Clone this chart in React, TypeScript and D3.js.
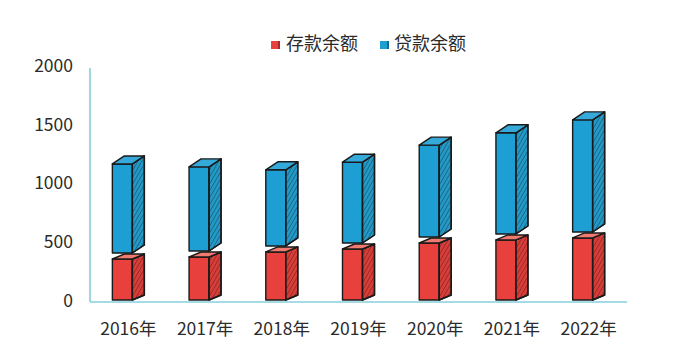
import React from "react";
import * as d3 from "d3";

const years = ["2016年", "2017年", "2018年", "2019年", "2020年", "2021年", "2022年"];
const deposits = [366, 383, 426, 451, 502, 528, 545];
const loans = [1175, 1150, 1125, 1190, 1335, 1440, 1550];
const yTicks = [0, 500, 1000, 1500, 2000];
const seriesNames = ["存款余额", "贷款余额"];

const W = 695;
const H = 356;
const FONT = "'Noto Sans CJK SC', 'Noto Sans', sans-serif";

const x = d3.scaleBand<string>().domain(years).range([90, 627]);
const y = d3.scaleLinear().domain([0, 2000]).range([302, 67]);

const RED = { front: "#e8403d", side: "#d63e3a", top: "#ef7a6f", hatch: "#7a1a17" };
const BLUE = { front: "#1d9fd3", side: "#2599c6", top: "#34a9da", hatch: "#0d4a63" };

function Box({ cx, yTop, yBot, dy, c, pid }: { cx: number; yTop: number; yBot: number; dy: number; c: typeof RED; pid: string }) {
  const fl = cx - 16;
  const fr = cx + 4;
  const dx = 12;
  const line = d3.line();
  const front = line([[fl, yBot], [fl, yTop], [fr, yTop], [fr, yBot]])! + "Z";
  const side = line([[fr, yBot], [fr, yTop], [fr + dx, yTop - dy], [fr + dx, yBot - dy]])! + "Z";
  const top = line([[fl, yTop], [fl + dx, yTop - dy], [fr + dx, yTop - dy], [fr, yTop]])! + "Z";
  const st = { stroke: "#1a1a1a", strokeWidth: 1.4, strokeLinejoin: "round" as const };
  return (
    <g>
      <path d={front} fill={c.front} {...st} />
      <path d={side} fill={c.side} {...st} />
      <path d={side} fill={`url(#${pid})`} stroke="none" />
      <path d={side} fill="none" {...st} />
      <path d={top} fill={c.top} {...st} />
    </g>
  );
}

export default function App() {
  return (
    <svg width={W} height={H} style={{ position: "absolute", left: 0, top: 0, background: "#fff" }}>
      <defs>
        <pattern id="hr" width="3.5" height="4" patternUnits="userSpaceOnUse" patternTransform="rotate(30)">
          <line x1="0" y1="0" x2="0" y2="4" stroke={RED.hatch} strokeWidth="1.1" />
        </pattern>
        <pattern id="hb" width="3.5" height="4" patternUnits="userSpaceOnUse" patternTransform="rotate(30)">
          <line x1="0" y1="0" x2="0" y2="4" stroke={BLUE.hatch} strokeWidth="1.1" />
        </pattern>
      </defs>

      <line x1={90} x2={90} y1={68} y2={y(0)} stroke="#86cfdc" strokeWidth={1.6} />
      <line x1={90} x2={627} y1={y(0)} y2={y(0)} stroke="#86cfdc" strokeWidth={1.6} />

      {yTicks.map((t) => (
        <text key={t} x={73} y={y(t)} textAnchor="end" dominantBaseline="middle" fontFamily={FONT} fontSize={17.5} fill="#2b2b2b">
          {t}
        </text>
      ))}

      {years.map((yr, i) => {
        const cx = (x(yr) as number) + x.bandwidth() / 2;
        return (
          <g key={yr}>
            <Box cx={cx} yTop={y(deposits[i])} yBot={y(0) - 2} dy={5} c={RED} pid="hr" />
            <Box cx={cx} yTop={y(loans[i])} yBot={y(deposits[i]) - 6} dy={8} c={BLUE} pid="hb" />
            <text x={cx} y={330} textAnchor="middle" dominantBaseline="middle" fontFamily={FONT} fontSize={17.5} fill="#2b2b2b">
              {yr}
            </text>
          </g>
        );
      })}

      <g>
        <rect x={271} y={41} width={7} height={8} fill={RED.front} />
        <rect x={278} y={41} width={2} height={8} fill="#a52a26" />
        <text x={286} y={45} dominantBaseline="middle" fontFamily={FONT} fontSize={18} fill="#2b2b2b">
          {seriesNames[0]}
        </text>
        <rect x={380} y={41} width={7} height={8} fill={BLUE.front} />
        <rect x={387} y={41} width={2} height={8} fill="#14698c" />
        <text x={394} y={45} dominantBaseline="middle" fontFamily={FONT} fontSize={18} fill="#2b2b2b">
          {seriesNames[1]}
        </text>
      </g>
    </svg>
  );
}
